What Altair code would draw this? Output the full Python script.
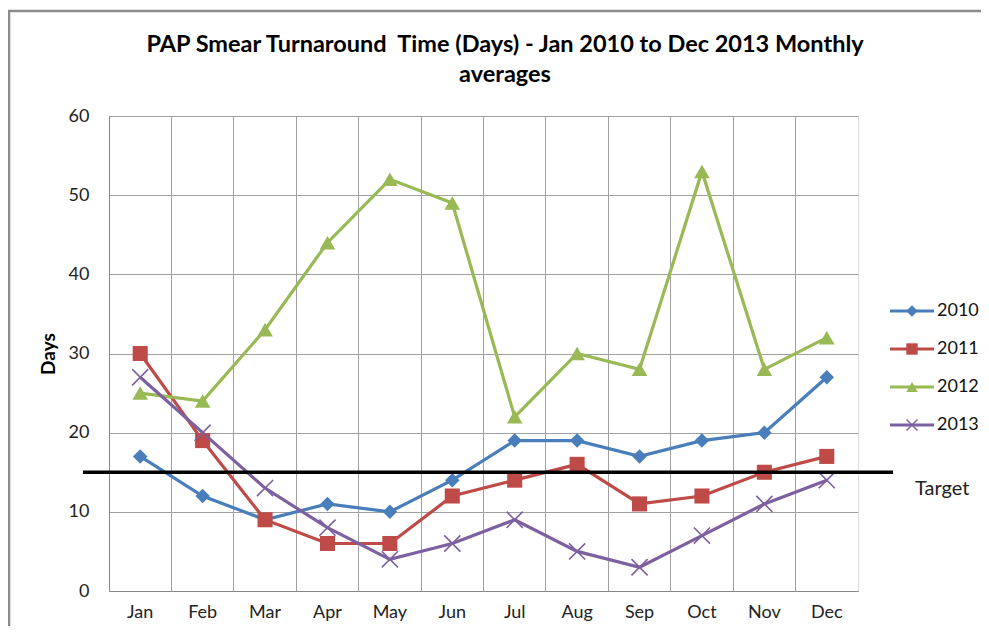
import altair as alt
import pandas as pd

months = ["Jan", "Feb", "Mar", "Apr", "May", "Jun", "Jul", "Aug", "Sep", "Oct", "Nov", "Dec"]
years = ["2010", "2011", "2012", "2013"]
v2010 = [17, 12, 9, 11, 10, 14, 19, 19, 17, 19, 20, 27]
v2011 = [30, 19, 9, 6, 6, 12, 14, 16, 11, 12, 15, 17]
v2012 = [25, 24, 33, 44, 52, 49, 22, 30, 28, 53, 28, 32]
v2013 = [27, 20, 13, 8, 4, 6, 9, 5, 3, 7, 11, 14]
target = 15
title_lines = ["PAP Smear Turnaround\u00a0 Time (Days) - Jan 2010 to Dec 2013 Monthly", "averages"]

colors = ["#4a7ebb", "#be4b48", "#98b954", "#7d60a0"]
xpath = "M-1,-1L1,1M-1,1L1,-1"
shapes = ["diamond", "square", "triangle-up", xpath]
FONT = "Lato"
LBL = 18

rows = []
for y, vals in zip(years, [v2010, v2011, v2012, v2013]):
    for m, v in zip(months, vals):
        rows.append({"year": y, "month": m, "days": v})
df = pd.DataFrame(rows)
leg = pd.DataFrame({"year": years})

xenc = alt.X("month:N", sort=months, bandPosition=0.5,
             scale=alt.Scale(type="band", paddingInner=0, paddingOuter=0),
             axis=alt.Axis(title=None, grid=True, bandPosition=0, ticks=False,
                           labelAngle=0, labelPadding=12, labelFontSize=LBL,
                           labelFont=FONT, labelColor="#222", domainColor="#888",
                           gridColor="#a0a0a0"))
yenc = alt.Y("days:Q", scale=alt.Scale(domain=[0, 60]),
             axis=alt.Axis(title="Days", values=[0, 10, 20, 30, 40, 50, 60],
                           ticks=False, labelPadding=20, labelFontSize=LBL,
                           labelFont=FONT, labelColor="#222", domainColor="#888",
                           gridColor="#a0a0a0", titleFont=FONT, titleFontSize=19,
                           titleFontWeight="bold", titlePadding=10, titleColor="#000"))
col = alt.Color("year:N", scale=alt.Scale(domain=years, range=colors), legend=None)
shp = alt.Shape("year:N", scale=alt.Scale(domain=years, range=shapes), legend=None)
sz = alt.Size("year:N", scale=alt.Scale(domain=years, range=[210, 260, 300, 180]), legend=None)

base = alt.Chart(df)
lines = base.mark_line(strokeWidth=3.2).encode(x=xenc, y=yenc, color=col, detail="year:N",
                                               order=alt.Order("year:N"))
pts = base.transform_filter(alt.datum.year != "2013").mark_point(
    filled=True, opacity=1).encode(x=xenc, y=yenc, color=col, shape=shp, size=sz)
pts13 = base.transform_filter(alt.datum.year == "2013").mark_point(
    filled=False, opacity=1, strokeWidth=1.6).encode(x=xenc, y=yenc, color=col, shape=shp, size=sz)

tgt = alt.Chart(pd.DataFrame({"t": [target]})).mark_rule(color="#000", strokeWidth=3.5).encode(
    y=alt.Y("t:Q"), x=alt.value(-26), x2=alt.value(784))
tgt_text = alt.Chart(pd.DataFrame({"t": [target], "label": ["Target"]})).mark_text(
    align="left", baseline="middle", dy=17, fontSize=20, font=FONT, color="#222").encode(
    y=alt.Y("t:Q"), x=alt.value(806), text="label:N")

main = alt.layer(lines, pts, pts13, tgt, tgt_text)

ly = alt.Y("year:N", sort=years, scale=alt.Scale(type="point", range=[195, 309], padding=0), axis=None)
lcol = alt.Color("year:N", scale=alt.Scale(domain=years, range=colors), legend=None)
leg_line = alt.Chart(leg).mark_rule(strokeWidth=3).encode(
    y=ly, x=alt.value(781), x2=alt.value(825), color=lcol)
leg_pt = alt.Chart(leg).transform_filter(alt.datum.year != "2013").mark_point(
    filled=True, opacity=1, size=130).encode(y=ly, x=alt.value(803), color=lcol, shape=shp)
leg_pt13 = alt.Chart(leg).transform_filter(alt.datum.year == "2013").mark_point(
    filled=False, opacity=1, size=120, strokeWidth=1.4).encode(y=ly, x=alt.value(803), color=lcol, shape=shp)
leg_txt = alt.Chart(leg).mark_text(align="left", baseline="middle", fontSize=LBL, font=FONT,
                                   color="#111", dx=0).encode(
    y=ly, x=alt.value(828), text="year:N")
legend = alt.layer(leg_line, leg_pt, leg_pt13, leg_txt)

tdf = pd.DataFrame({"line": title_lines, "i": [0, 1]})
title = alt.Chart(tdf).mark_text(font=FONT, fontSize=23.5, fontWeight="bold", color="#000",
                                 align="center", baseline="middle").encode(
    x=alt.value(396), y=alt.Y("i:O", scale=alt.Scale(type="point", range=[-71, -41], padding=0), axis=None),
    text="line:N")

frame = alt.Chart(pd.DataFrame({"a": [0]})).mark_rule(color="#8c8c8c", strokeWidth=2.5).encode(
    x=alt.value(-101), x2=alt.value(900), y=alt.value(-105))
frame2 = alt.Chart(pd.DataFrame({"a": [0]})).mark_rule(color="#8c8c8c", strokeWidth=2.5).encode(
    x=alt.value(-100), y=alt.value(-106), y2=alt.value(530))

chart = alt.layer(main, legend, title, frame, frame2).resolve_scale(
    y="independent", shape="independent", size="independent").properties(
    width=749, height=475,
    autosize=alt.AutoSizeParams(type="none"),
    padding={"left": 101, "top": 108, "right": 123, "bottom": 35},
).configure_view(stroke="#a0a0a0", strokeWidth=1).configure(background="white")

chart.save("out.html", embed_options={"renderer": "svg", "actions": False})
